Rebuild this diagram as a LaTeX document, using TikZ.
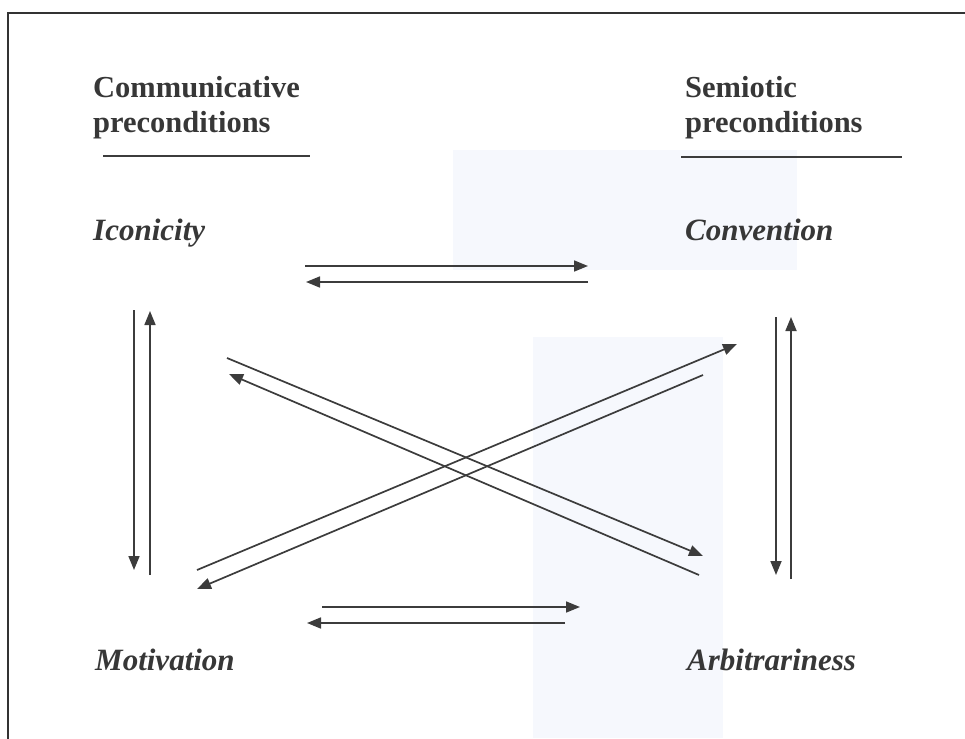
\documentclass[tikz,border=0pt]{standalone}
\usepackage{fontspec}
\setmainfont{Liberation Serif}
\definecolor{inkgray}{RGB}{55, 55, 55}
\definecolor{linegray}{RGB}{60, 60, 60}
\definecolor{scanblue}{RGB}{246, 248, 253}
\usetikzlibrary{arrows.meta, positioning}

\begin{document}
\begin{tikzpicture}[
          x=1pt, y=-1pt,
          heading/.style={anchor=base west, inner sep=0pt, align=left,
                          font=\fontsize{30.5}{35}\selectfont\bfseries, text=inkgray},
          term/.style={anchor=base west, inner sep=0pt,
                       font=\fontsize{31}{35}\selectfont\bfseries\itshape, text=inkgray},
          rule/.style={line width=1.8pt, draw=linegray},
          arr/.style={-{Triangle[length=14pt, width=11pt]}, line width=1.7pt, draw=linegray},
          frame/.style={line width=2pt, draw=black!80}
        ]
        \useasboundingbox (0,0) rectangle (965,738);
        % faint tint of the scan
        \fill[scanblue] (453,150) rectangle (797,270);
        \fill[scanblue] (533,337) rectangle (723,738);
        \draw[frame] (8,745) |- (970,13);

        \node[heading] (comm) at (93,133)  {Communicative\\preconditions};
        \node[heading] (semi) at (685,133) {Semiotic\\preconditions};
        \draw[rule] (103,156) -- (310,156);
        \draw[rule] (681,157) -- (902,157);

        \node[term] (icon) at (93,240)  {Iconicity};
        \node[term] (conv) at (685,240) {Convention};
        \node[term] (moti) at (95,670)  {Motivation};
        \node[term] (arbi) at (687,670) {Arbitrariness};

        % arrow ends
        \coordinate (ic-e) at (305,266);  \coordinate (co-w) at (588,266);
        \coordinate (co-w2) at (588,282); \coordinate (ic-e2) at (306,282);
        \coordinate (mo-e) at (322,607);  \coordinate (ar-w) at (580,607);
        \coordinate (ar-w2) at (565,623); \coordinate (mo-e2) at (307,623);
        \coordinate (ic-s) at (134,310);  \coordinate (mo-n) at (134,570);
        \coordinate (mo-n2) at (150,575); \coordinate (ic-s2) at (150,311);
        \coordinate (co-s) at (776,317);  \coordinate (ar-n) at (776,575);
        \coordinate (ar-n2) at (791,579); \coordinate (co-s2) at (791,317);
        \coordinate (ic-se) at (227,358); \coordinate (ar-nw) at (703,556);
        \coordinate (ar-nw2) at (699,575); \coordinate (ic-se2) at (229,374);
        \coordinate (mo-ne) at (197,570); \coordinate (co-sw) at (737,344);
        \coordinate (co-sw2) at (703,375); \coordinate (mo-ne2) at (197,589);

        \draw[arr] (ic-e) -- (co-w);
        \draw[arr] (co-w2) -- (ic-e2);
        \draw[arr] (mo-e) -- (ar-w);
        \draw[arr] (ar-w2) -- (mo-e2);
        \draw[arr] (ic-s) -- (mo-n);
        \draw[arr] (mo-n2) -- (ic-s2);
        \draw[arr] (co-s) -- (ar-n);
        \draw[arr] (ar-n2) -- (co-s2);
        \draw[arr] (ic-se) -- (ar-nw);
        \draw[arr] (ar-nw2) -- (ic-se2);
        \draw[arr] (mo-ne) -- (co-sw);
        \draw[arr] (co-sw2) -- (mo-ne2);
      \end{tikzpicture}
\end{document}
